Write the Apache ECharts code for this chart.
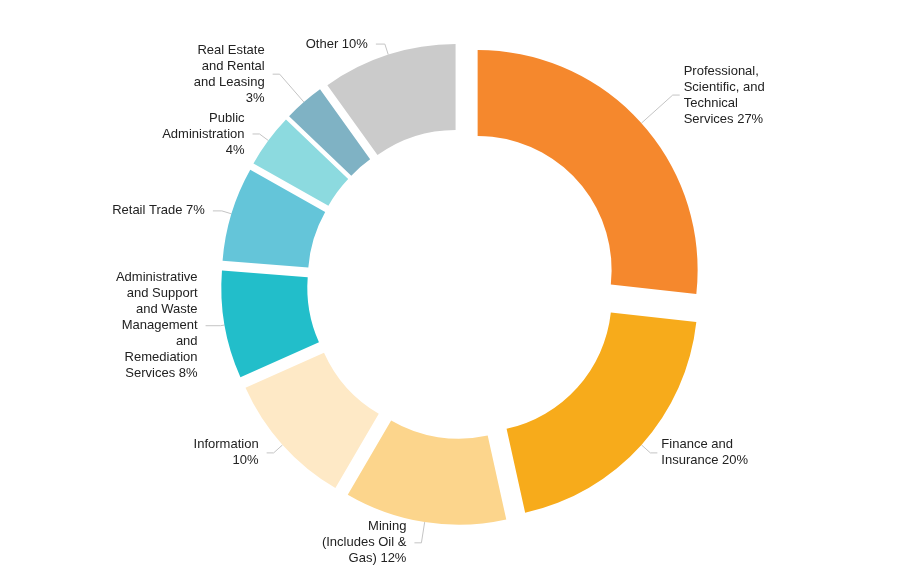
<!DOCTYPE html>
<html>
<head>
<meta charset="utf-8">
<script src="https://cdn.jsdelivr.net/npm/echarts@6/dist/echarts.min.js"></script>
<style>
html,body{margin:0;padding:0;background:#fff;}
#chart{width:924px;height:569px;}
</style>
</head>
<body>
<div id="chart"></div>
<script>
// ---- data ----
const categories = [
  "Professional, Scientific, and Technical Services",
  "Finance and Insurance",
  "Mining (Includes Oil & Gas)",
  "Information",
  "Administrative and Support and Waste Management and Remediation Services",
  "Retail Trade",
  "Public Administration",
  "Real Estate and Rental and Leasing",
  "Other"
];
const values = [27, 20, 12, 10, 8, 7, 4, 3, 10];
const labelTexts = [
  "Professional,\nScientific, and\nTechnical\nServices 27%",
  "Finance and\nInsurance 20%",
  "Mining\n(Includes Oil &\nGas) 12%",
  "Information\n10%",
  "Administrative\nand Support\nand Waste\nManagement\nand\nRemediation\nServices 8%",
  "Retail Trade 7%",
  "Public\nAdministration\n4%",
  "Real Estate\nand Rental\nand Leasing\n3%",
  "Other 10%"
];
// ---- styles ----
const colors = ["#F5882D", "#F7AB1B", "#FCD58C", "#FEE9C6", "#22BECA", "#64C5D9", "#8CDADF", "#7FB2C4", "#CBCBCB"];
const lineLen  = [42, 12, 21, 12, 4, 10, 11, 37, 11];
const lineLen2 = [7, 7, 7, 7, 15, 9, 7, 7, 9];
const labelGap = [4, 4, 8, 8, 8, 8, 8, 8, 8];

const chart = echarts.init(document.getElementById('chart'), null, {renderer: 'canvas'});
const data = values.map((v, i) => ({
  name: categories[i],
  value: v,
  selected: true,
  itemStyle: { color: colors[i] },
  label: { formatter: labelTexts[i], distanceToLabelLine: labelGap[i] },
  labelLine: { length: lineLen[i], length2: lineLen2[i] }
}));
chart.setOption({
  animation: false,
  series: [{
    type: 'pie',
    center: [462, 284],
    radius: [134, 220],
    startAngle: 90,
    clockwise: true,
    selectedMode: 'multiple',
    selectedOffset: 21,
    avoidLabelOverlap: false,
    emphasis: { disabled: true, scale: false },
    itemStyle: { borderWidth: 0 },
    label: {
      show: true,
      position: 'outside',
      fontFamily: '"Liberation Sans", Arial, sans-serif',
      fontSize: 13,
      lineHeight: 16,
      color: '#222'
    },
    labelLine: {
      show: true,
      smooth: false,
      lineStyle: { color: '#C4C4C4', width: 1 }
    },
    data: data
  }]
});
</script>
</body>
</html>
